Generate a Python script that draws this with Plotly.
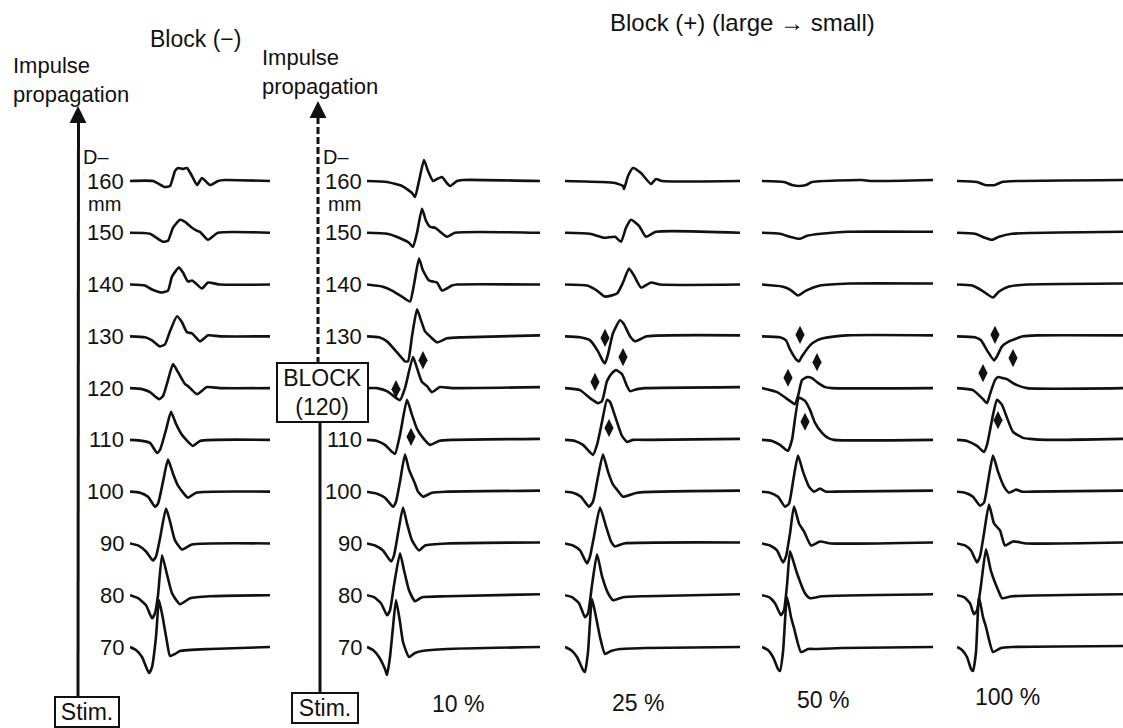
import plotly.graph_objects as go

# ---------------- data ----------------
DISTANCES = [160, 150, 140, 130, 120, 110, 100, 90, 80, 70]   # recording site, mm
PANEL_LABELS = ["Block (−)", "10 %", "25 %", "50 %", "100 %"]

# time (ms) / voltage (mV) samples for every recording site
NOBLOCK_T = [
    [0, 2.3, 3.5, 4.0, 4.5, 4.8, 5.3, 5.7, 6.2, 6.7, 7.2, 8.0, 8.8, 9.5, 14.0],
    [0, 2.0, 3.3, 3.8, 4.3, 5.0, 5.5, 6.2, 6.7, 7.0, 7.8, 8.8, 14.0],
    [0, 1.5, 2.2, 3.2, 3.8, 4.2, 4.9, 5.3, 5.8, 6.2, 6.6, 7.2, 7.8, 9.0, 14.0],
    [0, 1.5, 2.2, 3.0, 3.5, 4.0, 4.7, 5.2, 5.7, 6.2, 7.0, 7.8, 9.0, 14.0],
    [0, 1.2, 2.0, 2.9, 3.3, 3.8, 4.3, 4.8, 5.5, 5.8, 6.7, 7.7, 9.0, 14.0],
    [0, 1.2, 2.0, 2.7, 3.0, 3.6, 4.1, 4.6, 5.2, 6.3, 7.0, 14.0],
    [0, 1.0, 1.8, 2.5, 2.8, 3.3, 3.8, 4.3, 4.8, 5.8, 6.6, 14.0],
    [0, 0.8, 1.6, 2.3, 2.6, 3.0, 3.6, 4.0, 4.5, 5.2, 6.2, 14.0],
    [0, 0.8, 1.6, 2.2, 2.5, 2.8, 3.2, 3.6, 4.2, 5.0, 6.0, 8.0, 14.0],
    [0, 0.6, 1.2, 1.9, 2.2, 2.6, 2.9, 3.3, 3.7, 4.0, 4.5, 5.0, 8.0, 14.0],
]
NOBLOCK_V = [
    [0, 0, -0.12, -0.10, 0.20, 0.26, 0.24, 0.26, 0.10, -0.08, 0.06, -0.08, 0, 0.02, 0],
    [0, -0.02, -0.18, -0.16, 0.10, 0.26, 0.22, 0.10, 0.04, 0.02, -0.14, 0, 0],
    [0, -0.02, -0.10, -0.16, -0.12, 0.16, 0.34, 0.24, 0.06, 0.08, 0.02, -0.08, 0.04, 0, 0],
    [0, -0.02, -0.08, -0.20, -0.16, 0.10, 0.40, 0.28, 0.08, 0.06, -0.10, 0.02, 0, 0],
    [0, -0.02, -0.08, -0.22, -0.16, 0.16, 0.48, 0.32, 0.08, 0.04, -0.12, 0.02, 0, 0],
    [0, -0.02, -0.06, -0.26, -0.20, 0.20, 0.56, 0.32, 0.10, -0.12, -0.02, 0],
    [0, -0.02, -0.10, -0.30, -0.24, 0.20, 0.64, 0.36, 0.12, -0.12, -0.02, 0],
    [0, -0.04, -0.16, -0.34, -0.26, 0.10, 0.70, 0.44, 0.06, -0.12, -0.02, 0],
    [0, -0.06, -0.20, -0.46, -0.36, 0, 0.80, 0.50, 0.04, -0.18, -0.06, -0.02, 0],
    [0, -0.06, -0.20, -0.52, -0.40, 0.20, 0.94, 0.56, 0.10, -0.18, -0.14, -0.08, -0.04, 0],
]

B10_T = [
    [0, 2.0, 3.5, 4.5, 4.8, 5.2, 5.7, 6.1, 6.6, 7.0, 7.5, 7.9, 8.3, 9.0, 9.6, 17.3],
    [0, 2.0, 3.2, 4.2, 4.6, 5.0, 5.5, 5.9, 6.3, 6.8, 7.2, 8.0, 8.8, 17.3],
    [0, 1.5, 2.5, 3.5, 4.3, 4.7, 5.2, 5.6, 6.2, 6.6, 7.0, 7.5, 8.5, 9.0, 17.3],
    [0, 1.2, 2.0, 3.0, 3.8, 4.1, 4.5, 5.0, 5.4, 5.8, 6.3, 7.0, 8.0, 9.5, 17.3],
    [0, 1.0, 2.0, 2.8, 3.3, 3.8, 4.6, 5.0, 5.5, 6.0, 6.5, 7.3, 8.5, 17.3],
    [0, 1.0, 1.8, 2.5, 2.8, 3.3, 4.0, 4.5, 5.0, 5.6, 6.3, 7.2, 8.5, 17.3],
    [0, 1.0, 1.8, 2.6, 2.9, 3.3, 3.8, 4.2, 4.8, 5.1, 5.6, 6.5, 8.0, 17.3],
    [0, 0.8, 1.6, 2.4, 2.7, 3.1, 3.6, 4.0, 4.5, 5.2, 5.8, 8.0, 17.3],
    [0, 0.7, 1.4, 2.0, 2.3, 2.7, 3.3, 3.7, 4.2, 4.8, 5.5, 8.0, 17.3],
    [0, 0.6, 1.2, 1.8, 2.0, 2.3, 2.6, 2.9, 3.3, 3.6, 4.2, 4.8, 5.5, 8.0, 17.3],
]
B10_V = [
    [0, -0.02, -0.10, -0.24, -0.32, 0, 0.42, 0.20, 0, 0.04, 0.08, -0.02, -0.10, 0, 0.02, 0],
    [0, -0.02, -0.10, -0.20, -0.28, 0, 0.48, 0.24, 0.12, 0.10, 0.04, -0.08, 0, 0],
    [0, -0.04, -0.12, -0.24, -0.34, 0, 0.52, 0.28, 0.08, 0.06, 0.04, -0.12, -0.02, 0, 0],
    [0, -0.02, -0.10, -0.32, -0.50, -0.50, 0, 0.54, 0.32, 0.10, 0, -0.12, -0.04, -0.02, 0.02],
    [0, 0, -0.06, -0.18, -0.24, 0, 0.62, 0.40, 0.12, 0.04, -0.08, 0.02, 0, 0.02],
    [0, -0.02, -0.10, -0.24, -0.28, 0.10, 0.80, 0.50, 0.22, 0.04, -0.10, -0.02, 0, 0.02],
    [0, -0.04, -0.12, -0.30, -0.20, 0.20, 0.74, 0.44, 0.16, 0, -0.10, -0.02, 0, 0.02],
    [0, -0.04, -0.14, -0.36, -0.24, 0.20, 0.72, 0.40, 0.06, -0.14, -0.04, 0, 0.02],
    [0, -0.04, -0.16, -0.40, -0.30, 0.20, 0.84, 0.50, 0.10, -0.12, -0.04, -0.02, 0.02],
    [0, -0.06, -0.20, -0.44, -0.56, -0.20, 0.40, 0.94, 0.50, 0.10, -0.20, -0.12, -0.08, -0.04, 0],
]

B25_T = [
    [0, 3.7, 5.0, 5.8, 5.9, 6.3, 6.8, 7.6, 8.6, 9.1, 9.7, 17.5],
    [0, 2.5, 3.9, 5.0, 5.6, 6.1, 6.6, 7.4, 8.1, 9.1, 17.5],
    [0, 2.2, 3.2, 4.0, 5.2, 5.8, 6.4, 6.9, 7.6, 8.6, 9.5, 17.5],
    [0, 1.5, 2.5, 3.3, 3.8, 4.0, 4.3, 4.8, 5.5, 5.9, 6.5, 7.0, 8.2, 17.5],
    [0, 1.5, 2.5, 3.3, 3.7, 4.2, 4.7, 5.1, 5.7, 6.2, 6.5, 7.2, 8.0, 17.5],
    [0, 1.0, 1.8, 2.8, 3.2, 3.7, 4.2, 4.5, 5.0, 5.7, 6.2, 6.8, 8.5, 17.5],
    [0, 0.8, 1.6, 2.4, 2.8, 3.3, 3.8, 4.3, 4.8, 5.2, 5.8, 7.2, 17.5],
    [0, 0.8, 1.5, 2.2, 2.5, 2.9, 3.5, 4.1, 4.6, 5.0, 5.9, 17.5],
    [0, 0.7, 1.4, 2.0, 2.3, 2.7, 3.2, 3.7, 4.3, 4.8, 5.8, 8.0, 17.5],
    [0, 0.6, 1.2, 1.8, 2.0, 2.3, 2.7, 3.1, 3.5, 4.0, 4.6, 5.5, 8.0, 17.5],
]
B25_V = [
    [0, -0.02, -0.04, -0.10, -0.16, 0.10, 0.26, 0.16, -0.06, 0.04, 0, 0],
    [0, -0.02, -0.10, -0.08, -0.18, 0.10, 0.26, 0.14, -0.08, 0.02, 0],
    [0, -0.02, -0.12, -0.24, -0.18, 0.04, 0.32, 0.18, -0.06, 0.04, 0, 0],
    [0, -0.02, -0.08, -0.30, -0.50, -0.54, -0.36, 0.06, 0.32, 0.24, 0, -0.10, 0, 0.02],
    [0, -0.04, -0.20, -0.30, -0.26, 0.14, 0.30, 0.36, 0.28, 0.04, -0.06, -0.02, 0, 0.02],
    [0, -0.02, -0.10, -0.30, -0.10, 0.36, 0.80, 0.76, 0.48, 0.08, -0.04, 0, 0, 0.02],
    [0, -0.02, -0.10, -0.30, -0.20, 0.30, 0.74, 0.40, 0.14, 0.04, -0.10, -0.02, 0.02],
    [0, -0.04, -0.14, -0.40, -0.26, 0.14, 0.72, 0.34, 0.04, -0.06, 0, 0.02],
    [0, -0.04, -0.16, -0.44, -0.36, 0.20, 0.82, 0.38, 0.04, -0.10, -0.04, -0.02, 0.02],
    [0, -0.06, -0.20, -0.46, -0.50, -0.10, 0.96, 0.60, 0.20, -0.14, -0.08, -0.04, -0.02, 0],
]

B50_T = [
    [0, 2.2, 3.0, 3.7, 4.4, 5.0, 10.0, 10.8, 17.1],
    [0, 1.8, 2.8, 3.8, 4.5, 5.9, 8.5, 17.1],
    [0, 2.0, 2.8, 3.6, 4.4, 5.8, 8.8, 17.1],
    [0, 1.8, 2.4, 2.8, 3.5, 3.7, 4.0, 4.8, 5.5, 6.1, 8.5, 17.1],
    [0, 1.5, 2.4, 3.1, 3.3, 3.6, 4.0, 4.5, 5.0, 5.5, 6.3, 7.0, 17.1],
    [0, 1.0, 1.8, 2.4, 2.6, 3.0, 3.7, 4.3, 4.8, 5.3, 6.0, 6.6, 7.2, 17.1],
    [0, 0.8, 1.6, 2.3, 2.7, 3.1, 3.6, 4.1, 4.7, 5.2, 5.8, 6.4, 7.2, 17.1],
    [0, 0.8, 1.5, 2.1, 2.4, 2.8, 3.2, 3.7, 4.2, 4.9, 5.8, 6.9, 17.1],
    [0, 0.7, 1.3, 1.9, 2.2, 2.5, 2.8, 3.1, 3.5, 4.3, 4.8, 6.0, 17.1],
    [0, 0.6, 1.1, 1.6, 1.8, 2.1, 2.5, 2.9, 3.2, 3.9, 4.6, 5.5, 8.0, 17.1],
]
B50_V = [
    [0, -0.02, -0.08, -0.10, -0.08, -0.02, 0.02, 0, 0.02],
    [0, -0.02, -0.08, -0.12, -0.06, -0.02, 0.02, 0.02],
    [0, -0.04, -0.10, -0.22, -0.12, -0.02, 0.02, 0.02],
    [0, -0.02, -0.08, -0.26, -0.48, -0.50, -0.40, -0.18, -0.08, -0.04, 0.02, 0.02],
    [0, -0.08, -0.20, -0.30, -0.32, -0.16, 0.16, 0.22, 0.20, 0.12, 0.02, 0, 0],
    [0, -0.02, -0.10, -0.20, -0.22, 0, 0.84, 0.78, 0.60, 0.34, 0.14, 0.04, 0, 0],
    [0, -0.02, -0.10, -0.30, -0.24, 0.20, 0.72, 0.40, 0.10, 0, 0.06, 0, 0, 0.02],
    [0, -0.04, -0.14, -0.38, -0.26, 0.20, 0.74, 0.40, 0.24, -0.04, 0.04, 0, 0.02],
    [0, -0.04, -0.16, -0.40, -0.30, 0.20, 0.88, 0.70, 0.44, 0.04, -0.06, -0.02, 0.02],
    [0, -0.06, -0.20, -0.44, -0.48, -0.10, 1.00, 0.60, 0.38, -0.10, -0.04, -0.04, -0.02, 0],
]

B100_T = [
    [0, 2.0, 2.8, 3.8, 4.5, 6.0, 16.6],
    [0, 1.8, 2.8, 3.5, 4.2, 5.5, 16.6],
    [0, 1.5, 2.5, 3.6, 4.2, 5.2, 7.0, 16.6],
    [0, 1.8, 2.4, 3.0, 3.7, 4.0, 4.5, 5.2, 6.6, 8.0, 16.6],
    [0, 1.6, 2.5, 3.0, 3.3, 3.8, 4.1, 4.6, 5.0, 5.6, 6.0, 7.0, 16.6],
    [0, 1.0, 2.0, 2.7, 3.0, 3.6, 4.0, 4.5, 5.0, 5.6, 6.6, 7.3, 9.0, 16.6],
    [0, 0.8, 1.6, 2.3, 2.7, 3.1, 3.6, 4.1, 4.7, 5.2, 5.9, 6.5, 7.5, 16.6],
    [0, 0.8, 1.4, 2.0, 2.3, 2.7, 3.2, 3.7, 4.3, 4.8, 5.6, 7.0, 16.6],
    [0, 0.7, 1.3, 1.7, 2.0, 2.4, 2.9, 3.4, 4.2, 4.5, 5.5, 16.6],
    [0, 0.5, 1.0, 1.4, 1.6, 1.9, 2.2, 2.6, 2.9, 3.6, 4.4, 5.5, 16.6],
]
B100_V = [
    [0, -0.02, -0.08, -0.08, -0.02, 0, 0.02],
    [0, -0.02, -0.10, -0.14, -0.08, -0.02, 0.02],
    [0, -0.02, -0.12, -0.26, -0.14, -0.04, 0, 0.02],
    [0, -0.02, -0.08, -0.28, -0.48, -0.40, -0.20, -0.10, 0, 0.02, 0.02],
    [0, -0.04, -0.20, -0.30, -0.12, 0.16, 0.22, 0.20, 0.18, 0.10, 0.06, 0, 0],
    [0, -0.02, -0.12, -0.24, -0.10, 0.50, 0.80, 0.70, 0.44, 0.16, 0.04, 0.02, 0, 0.02],
    [0, -0.02, -0.10, -0.28, -0.22, 0.20, 0.72, 0.40, 0.10, -0.02, 0.04, 0, 0, 0.02],
    [0, -0.04, -0.14, -0.38, -0.26, 0.20, 0.78, 0.40, 0.26, -0.04, 0.04, 0, 0.02],
    [0, -0.04, -0.16, -0.38, -0.30, 0.20, 0.92, 0.48, 0.06, -0.06, -0.02, 0.02],
    [0, -0.06, -0.20, -0.44, -0.48, -0.10, 1.00, 0.60, 0.40, -0.10, -0.02, 0, 0.02],
]

# block-site arrows (time ms, level mm)
B10_ARROW_T = [5.6, 2.9, 4.4]
B10_ARROW_Y = [125.4, 119.8, 110.6]
B25_ARROW_T = [4.0, 3.0, 5.8, 4.4]
B25_ARROW_Y = [129.7, 121.2, 126.0, 112.3]
B50_ARROW_T = [3.8, 2.6, 5.5, 4.3]
B50_ARROW_Y = [130.3, 122.0, 125.0, 113.5]
B100_ARROW_T = [3.8, 2.6, 5.6, 4.1]
B100_ARROW_Y = [130.3, 122.9, 125.8, 113.8]

GAIN = 9.66  # display gain, mm of trace offset per mV

# ---------------- layout helpers ----------------
W, H = 1123, 728
FONT = "Liberation Sans, Arial, sans-serif"
INK = "#111111"


def px(x):
    return x / W


def py(y):
    return 1 - y / H


PANEL_PX = [(130, 270), (367, 540), (565, 740), (762, 933), (957, 1123)]
PX_PER_MS = 10.0
# distance axis: 160 mm at 181 px, 70 mm at 647 px
PX_PER_MM = (647 - 181) / 90.0
Y_HI = 160 + 181 / PX_PER_MM
Y_LO = 70 - (H - 647) / PX_PER_MM

panels = [
    (NOBLOCK_T, NOBLOCK_V, [], []),
    (B10_T, B10_V, B10_ARROW_T, B10_ARROW_Y),
    (B25_T, B25_V, B25_ARROW_T, B25_ARROW_Y),
    (B50_T, B50_V, B50_ARROW_T, B50_ARROW_Y),
    (B100_T, B100_V, B100_ARROW_T, B100_ARROW_Y),
]

fig = go.Figure()
layout_axes = {}
for i, (T, V, AT, AY) in enumerate(panels):
    xa = "x" if i == 0 else f"x{i + 1}"
    key = "xaxis" if i == 0 else f"xaxis{i + 1}"
    s, e = PANEL_PX[i]
    layout_axes[key] = dict(domain=[px(s), px(e)], range=[0, (e - s) / PX_PER_MS],
                            visible=False, anchor="y", fixedrange=True)
    for d, t, v in zip(DISTANCES, T, V):
        fig.add_trace(go.Scatter(
            x=t, y=[d + GAIN * a for a in v], xaxis=xa, yaxis="y", mode="lines",
            line=dict(color=INK, width=2.6, shape="spline", smoothing=0.5),
            hoverinfo="skip", showlegend=False))
    if AT:
        fig.add_trace(go.Scatter(
            x=AT, y=AY, xaxis=xa, yaxis="y", mode="markers",
            marker=dict(symbol="diamond-tall", size=13, color=INK),
            hoverinfo="skip", showlegend=False))

annotations = []
NUM_SIZE = 22
TXT_SIZE = 23


def text(x, y, s, size=TXT_SIZE, xanchor="center", **kw):
    annotations.append(dict(x=px(x), y=py(y), xref="paper", yref="paper", text=s,
                            showarrow=False, xanchor=xanchor, yanchor="middle",
                            font=dict(family=FONT, size=size, color=INK), **kw))


# distance labels for the first two panels
for i, gap in ((0, 5), (1, 4)):
    xa = "x" if i == 0 else "x2"
    for d in DISTANCES:
        if i == 1 and d == 120:
            continue
        annotations.append(dict(x=0, y=d, xref=xa, yref="y", text=str(d), showarrow=False,
                                xanchor="right", yanchor="middle", xshift=-gap, borderpad=0,
                                font=dict(family=FONT, size=NUM_SIZE, color=INK)))
    dx = -48 if i == 0 else -45
    annotations.append(dict(x=0, y=160, xref=xa, yref="y", text="D–", showarrow=False,
                            xanchor="left", yanchor="middle", xshift=dx, yshift=24,
                            borderpad=0, font=dict(family=FONT, size=20, color=INK)))
    annotations.append(dict(x=0, y=160, xref=xa, yref="y", text="mm", showarrow=False,
                            xanchor="left", yanchor="middle", xshift=dx + 5, yshift=-23,
                            borderpad=0, font=dict(family=FONT, size=20, color=INK)))

# titles and captions
text(12, 80, "Impulse<br>propagation", size=22, xanchor="left", align="left", borderpad=0)
text(261, 72, "Impulse<br>propagation", size=22, xanchor="left", align="left", borderpad=0)
text(195, 39, PANEL_LABELS[0])
text(742, 22, "Block (+) (large → small)", size=24)
text(458, 704, PANEL_LABELS[1])
text(638, 703, PANEL_LABELS[2])
text(823, 700, PANEL_LABELS[3])
text(1007, 697, PANEL_LABELS[4])

# boxes
annotations.append(dict(x=px(86.5), y=py(712), xref="paper", yref="paper", text="Stim.",
                        showarrow=False, xanchor="center", yanchor="middle",
                        bordercolor=INK, borderwidth=2, borderpad=1, width=60, height=26,
                        font=dict(family=FONT, size=TXT_SIZE, color=INK)))
annotations.append(dict(x=px(324.5), y=py(708), xref="paper", yref="paper", text="Stim.",
                        showarrow=False, xanchor="center", yanchor="middle",
                        bordercolor=INK, borderwidth=2, borderpad=1, width=62, height=26,
                        font=dict(family=FONT, size=TXT_SIZE, color=INK)))
annotations.append(dict(x=px(322.5), y=py(392.5), xref="paper", yref="paper",
                        text="BLOCK<br>(120)", showarrow=False, xanchor="center",
                        yanchor="middle", align="center", bgcolor="white",
                        bordercolor=INK, borderwidth=2, borderpad=1, width=87, height=55,
                        font=dict(family=FONT, size=TXT_SIZE, color=INK)))

# arrow heads of the propagation axes
for xx, yy in ((78, 106), (318, 101)):
    annotations.append(dict(x=px(xx), y=py(yy), xref="paper", yref="paper", text="",
                            showarrow=True, ax=0, ay=14, arrowhead=2, arrowsize=1.3,
                            arrowwidth=2.6, arrowcolor=INK))

shapes = [
    dict(type="line", xref="paper", yref="paper", x0=px(78), x1=px(78.5),
         y0=py(697), y1=py(112), line=dict(color=INK, width=3)),
    dict(type="line", xref="paper", yref="paper", x0=px(318), x1=px(318),
         y0=py(364), y1=py(110), line=dict(color=INK, width=3, dash="7px,3px")),
    dict(type="line", xref="paper", yref="paper", x0=px(320), x1=px(320),
         y0=py(692), y1=py(421), line=dict(color=INK, width=3)),
]

fig.update_layout(
    width=W, height=H, margin=dict(l=0, r=0, t=0, b=0),
    paper_bgcolor="white", plot_bgcolor="white", showlegend=False,
    yaxis=dict(domain=[0, 1], range=[Y_LO, Y_HI], visible=False, fixedrange=True),
    annotations=annotations, shapes=shapes, **layout_axes)

fig.write_html("out.html", config={"displayModeBar": False, "staticPlot": True},
               post_script="document.body.style.margin='0';document.body.style.overflow='hidden';")
